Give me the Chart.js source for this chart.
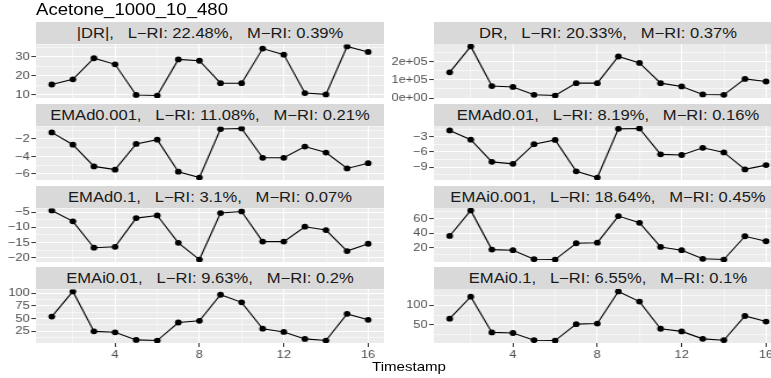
<!DOCTYPE html>
<html>
<head>
<meta charset="utf-8">
<script src="https://cdn.jsdelivr.net/npm/chart.js@4.4.1/dist/chart.umd.min.js"></script>
<style>
  html, body { margin: 0; padding: 0; width: 771px; height: 378px; overflow: hidden; background: #fff; }
  #outer { position: relative; width: 771px; height: 378px; overflow: hidden; }
  /* the reference is a little wider than it is tall, so the whole figure is stretched sideways */
  #wrap { position: absolute; left: 0; top: 0; width: 700px; height: 378px; transform-origin: 0 0; font-family: "Liberation Sans", Arial, sans-serif; }
  #wrap canvas { position: absolute; }
  .strip { position: absolute; background: #D9D9D9; color: #1A1A1A; font-size: 14.3px; text-align: center; white-space: pre; overflow: hidden; }
  #title { position: absolute; top: 1px; font-size: 16px; color: #000; white-space: pre; }
  #xtitle { position: absolute; top: 359px; font-size: 13px; color: #000; text-align: center; }
</style>
</head>
<body>
<div id="outer">
<div id="wrap">
  <div id="title"></div>
  <div id="xtitle"></div>
</div>
</div>
<script>
// chart data
var chartTitle = "Acetone_1000_10_480";
var xTitle = "Timestamp";
var timestamps = [1, 2, 3, 4, 5, 6, 7, 8, 9, 10, 11, 12, 13, 14, 15, 16];

var panelNames = ["|DR|", "DR", "EMAd0.001", "EMAd0.01", "EMAd0.1", "EMAi0.001", "EMAi0.01", "EMAi0.1"];
var lRI = ["22.48%", "20.33%", "11.08%", "8.19%", "3.1%", "18.64%", "9.63%", "6.55%"];
var mRI = ["0.39%", "0.37%", "0.21%", "0.16%", "0.07%", "0.45%", "0.2%", "0.1%"];

var absDR    = [15.3, 18.0, 29.1, 25.9, 9.8, 9.5, 28.5, 27.8, 16.0, 16.0, 34.2, 31.0, 10.8, 10.1, 35.3, 32.4];
var dr       = [141000, 283000, 66000, 61000, 18000, 14000, 82000, 82000, 228000, 193000, 82000, 64000, 20000, 18000, 105000, 91000];
var emaD0001 = [-1.25, -2.65, -5.13, -5.5, -2.57, -2.08, -5.73, -6.4, -0.87, -0.8, -4.15, -4.15, -2.87, -3.55, -5.36, -4.76];
var emaD001  = [-1.76, -3.58, -7.96, -8.34, -4.47, -3.64, -9.83, -11.05, -1.45, -1.37, -6.48, -6.6, -5.19, -6.1, -9.44, -8.6];
var emaD01   = [-4.45, -8.04, -16.7, -16.4, -6.96, -6.1, -15.1, -20.6, -5.3, -4.78, -14.7, -14.7, -9.8, -10.9, -17.8, -15.4];
var emaI0001 = [36.3, 71.7, 17.4, 16.6, 4.1, 3.6, 26.2, 27.0, 63.9, 54.6, 21.1, 16.6, 4.6, 3.6, 35.9, 29.0];
var emaI001  = [53.9, 104, 24.4, 22.5, 7.4, 6.1, 42.1, 45.5, 97.4, 82.3, 29.7, 23.2, 9.4, 6.1, 59.3, 47.4];
var emaI01   = [65.8, 121.7, 30.8, 29.2, 10.8, 10.0, 51.8, 53.3, 135, 109.2, 40.0, 33.3, 14.3, 10.8, 72.5, 58.3];
var series = [absDR, dr, emaD0001, emaD001, emaD01, emaI0001, emaI001, emaI01];

// y breaks (major with labels, minor without)
var yBreaks = [[10, 20, 30], [0, 100000, 200000], [-6, -4, -2], [-9, -6, -3], [-20, -15, -10, -5], [20, 40, 60], [25, 50, 75, 100], [50, 100]];
var yLabels = [["10", "20", "30"], ["0e+00", "1e+05", "2e+05"], ["\u22126", "\u22124", "\u22122"], ["\u22129", "\u22126", "\u22123"],
               ["\u221220", "\u221215", "\u221210", "\u22125"], ["20", "40", "60"], ["25", "50", "75", "100"], ["50", "100"]];
var yMinor = [[15, 25, 35], [50000, 150000, 250000], [-5, -3, -1], [-10.5, -7.5, -4.5, -1.5], [-17.5, -12.5, -7.5], [10, 30, 50, 70], [12.5, 37.5, 62.5, 87.5], [25, 75, 125]];
var xBreaks = [4, 8, 12, 16];
var xMinor = [2, 6, 10, 14];

// layout of the facet grid, in reference pixels
var S = 1.16;                 // horizontal stretch
var plotLeft = [36, 434];
var axisWidth = [36, 49];
var plotWidth = 348;
var plotTop = [44, 126, 208, 289];
var plotHeight = 54;
var stripHeight = 22;
var margin = 8;               // room so tick labels at the panel edge are not cut
var gap = "   ";

var wrap = document.getElementById("wrap");
wrap.style.transform = "scaleX(" + S + ")";

var titleEl = document.getElementById("title");
titleEl.textContent = chartTitle;
titleEl.style.left = (36 / S) + "px";

var xTitleEl = document.getElementById("xtitle");
xTitleEl.textContent = xTitle;
xTitleEl.style.left = (plotLeft[0] / S) + "px";
xTitleEl.style.width = ((plotLeft[1] + plotWidth - plotLeft[0]) / S) + "px";

// grey panel background
var panelBg = {
  id: "panelBg",
  beforeDraw: function (chart) {
    var a = chart.chartArea, c = chart.ctx;
    c.save();
    c.fillStyle = "#EBEBEB";
    c.fillRect(a.left, a.top, a.right - a.left, a.bottom - a.top);
    c.restore();
  }
};

// no extra room for labels that stick out past the panel
function noPadding(scale) {
  scale.paddingTop = 0;
  scale.paddingBottom = 0;
  scale.paddingLeft = 0;
  scale.paddingRight = 0;
}

function makePanel(i) {
  var col = i % 2, row = Math.floor(i / 2);
  var bottom = row === 3;
  var xAxisH = bottom ? 18 : 0;
  var values = series[i];
  var aw = Math.round(axisWidth[col] / S);
  var pw = Math.round(plotWidth / S);

  var canvas = document.createElement("canvas");
  canvas.width = aw + pw;
  canvas.height = plotHeight + xAxisH + 2 * margin;
  canvas.style.left = (plotLeft[col] / S - aw) + "px";
  canvas.style.top = (plotTop[row] - margin) + "px";
  wrap.appendChild(canvas);

  var strip = document.createElement("div");
  strip.className = "strip";
  strip.style.left = (plotLeft[col] / S) + "px";
  strip.style.top = (plotTop[row] - stripHeight) + "px";
  strip.style.width = pw + "px";
  strip.style.height = stripHeight + "px";
  strip.style.lineHeight = stripHeight + "px";
  strip.textContent = panelNames[i] + "," + gap + "L\u2212RI: " + lRI[i] + "," + gap + "M\u2212RI: " + mRI[i];
  wrap.appendChild(strip);

  var lo = Math.min.apply(null, values), hi = Math.max.apply(null, values);
  var pad = (hi - lo) * 0.05;
  var isMajorY = function (v) { return yBreaks[i].indexOf(v) >= 0; };
  var isMajorX = function (v) { return xBreaks.indexOf(v) >= 0; };

  new Chart(canvas.getContext("2d"), {
    type: "line",
    data: {
      datasets: [{
        data: timestamps.map(function (t, k) { return { x: t, y: values[k] }; }),
        borderColor: "#000000",
        backgroundColor: "#000000",
        borderWidth: 1.1,
        pointRadius: 2.9,
        pointBorderWidth: 0,
        fill: false,
        tension: 0
      }]
    },
    options: {
      responsive: false,
      devicePixelRatio: 1,
      animation: false,
      layout: { padding: { top: margin, bottom: margin, left: 0, right: 0 }, autoPadding: false },
      plugins: { legend: { display: false }, tooltip: { enabled: false } },
      scales: {
        x: {
          type: "linear",
          min: 0.25,
          max: 16.75,
          afterBuildTicks: function (scale) {
            scale.ticks = xMinor.concat(xBreaks).sort(function (a, b) { return a - b; }).map(function (v) { return { value: v }; });
          },
          afterFit: function (scale) { scale.height = xAxisH; noPadding(scale); },
          border: { display: false },
          grid: {
            color: "#FFFFFF",
            lineWidth: function (c) { return c.tick && isMajorX(c.tick.value) ? 1.0 : 0.5; },
            drawTicks: bottom,
            tickLength: 4,
            tickWidth: 1,
            tickColor: function (c) { return c.tick && isMajorX(c.tick.value) ? "#333333" : "rgba(0,0,0,0)"; }
          },
          ticks: {
            display: bottom,
            autoSkip: false,
            maxRotation: 0,
            padding: 1,
            color: "#4D4D4D",
            font: { family: "Liberation Sans", size: 11 },
            callback: function (v) { return isMajorX(v) ? String(v) : ""; }
          }
        },
        y: {
          min: lo - pad,
          max: hi + pad,
          afterBuildTicks: function (scale) {
            scale.ticks = yMinor[i].concat(yBreaks[i]).sort(function (a, b) { return a - b; }).map(function (v) { return { value: v }; });
          },
          afterFit: function (scale) { scale.width = aw; noPadding(scale); },
          border: { display: false },
          grid: {
            color: "#FFFFFF",
            lineWidth: function (c) { return c.tick && isMajorY(c.tick.value) ? 1.1 : 0.55; },
            drawTicks: true,
            tickLength: 4,
            tickWidth: 1,
            tickColor: function (c) { return c.tick && isMajorY(c.tick.value) ? "#333333" : "rgba(0,0,0,0)"; }
          },
          ticks: {
            autoSkip: false,
            padding: 1.5,
            color: "#4D4D4D",
            font: { family: "Liberation Sans", size: 11 },
            callback: function (v) {
              var k = yBreaks[i].indexOf(v);
              return k >= 0 ? yLabels[i][k] : "";
            }
          }
        }
      }
    },
    plugins: [panelBg]
  });
}

for (var p = 0; p < panelNames.length; p++) {
  makePanel(p);
}
</script>
</body>
</html>
